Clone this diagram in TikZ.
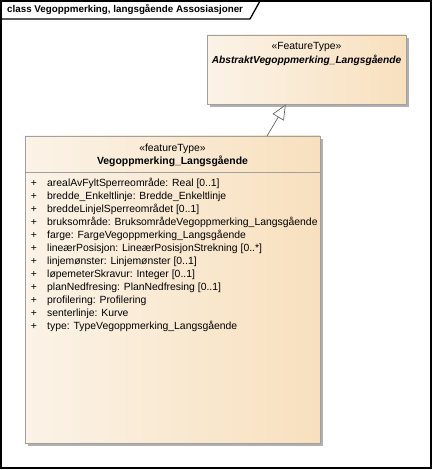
\documentclass[tikz,border=0pt]{standalone}
\usepackage{fontspec}
\setmainfont{Liberation Sans}
\usetikzlibrary{arrows.meta,shadows}
\definecolor{fillL}{RGB}{251,243,231}
\definecolor{fillR}{RGB}{248,224,190}
\definecolor{bord}{RGB}{160,160,160}
\definecolor{shad}{RGB}{176,176,176}
\definecolor{linec}{RGB}{100,100,100}
\begin{document}
\begin{tikzpicture}[x=1pt,y=-1pt,
  classbox/.style={draw=bord, line width=0.8pt, left color=fillL, right color=fillR, rectangle, inner sep=0pt,
    general shadow={fill=shad, shadow xshift=3pt, shadow yshift=-3pt}},
  txt/.style={font=\fontsize{10.4}{12}\selectfont, inner sep=0pt},
  attr/.style={txt, anchor=west},
  frameline/.style={line width=1.3pt, draw=black}
]
\useasboundingbox (0,0) rectangle (432,470);
\draw[frameline] (1,1) rectangle (431,468);
\draw[frameline] (1,19) -- (250,19) -- (260,1);
\node[txt, anchor=west, font=\fontsize{9.8}{11}\selectfont\bfseries] (title) at (7,10) {class Vegoppmerking, langsgående Assosiasjoner};

\node[classbox, minimum width=199pt, minimum height=69pt] (abst) at (306.5,69.5) {};
\node[txt] (abstst) at (306.5,47) {«FeatureType»};
\node[txt, font=\fontsize{10.2}{12}\selectfont\bfseries\itshape] (abstnm) at (306.5,60) {AbstraktVegoppmerking\_Langsgående};

\node[classbox, minimum width=295pt, minimum height=307pt] (veg) at (172.5,289.5) {};
\node[txt] (vegst) at (172.5,149) {«featureType»};
\node[txt, font=\fontsize{10.4}{12}\selectfont\bfseries] (vegnm) at (172.5,161.5) {Vegoppmerking\_Langsgående};
\draw[bord, line width=0.8pt] (25,172.5) -- (320,172.5);

\foreach \i/\t in {0/{arealAvFyltSperreområde: Real [0..1]},
  1/{bredde\_Enkeltlinje: Bredde\_Enkeltlinje},
  2/{breddeLinjelSperreområdet [0..1]},
  3/{bruksområde: BruksområdeVegoppmerking\_Langsgående},
  4/{farge: FargeVegoppmerking\_Langsgående},
  5/{lineærPosisjon: LineærPosisjonStrekning [0..*]},
  6/{linjemønster: Linjemønster [0..1]},
  7/{løpemeterSkravur: Integer [0..1]},
  8/{planNedfresing: PlanNedfresing [0..1]},
  9/{profilering: Profilering},
  10/{senterlinje: Kurve},
  11/{type: TypeVegoppmerking\_Langsgående}}{
  \node[txt] (p\i) at (34,{183.5+13*\i}) {+};
  \node[attr] (a\i) at (47,{183.5+13*\i}) {\t};
}

\coordinate (g1) at (267,136);
\draw[linec, line width=0.7pt, -{Triangle[open, length=15pt, width=13pt, fill=white]}] (g1) -- (abst);
\end{tikzpicture}
\end{document}
